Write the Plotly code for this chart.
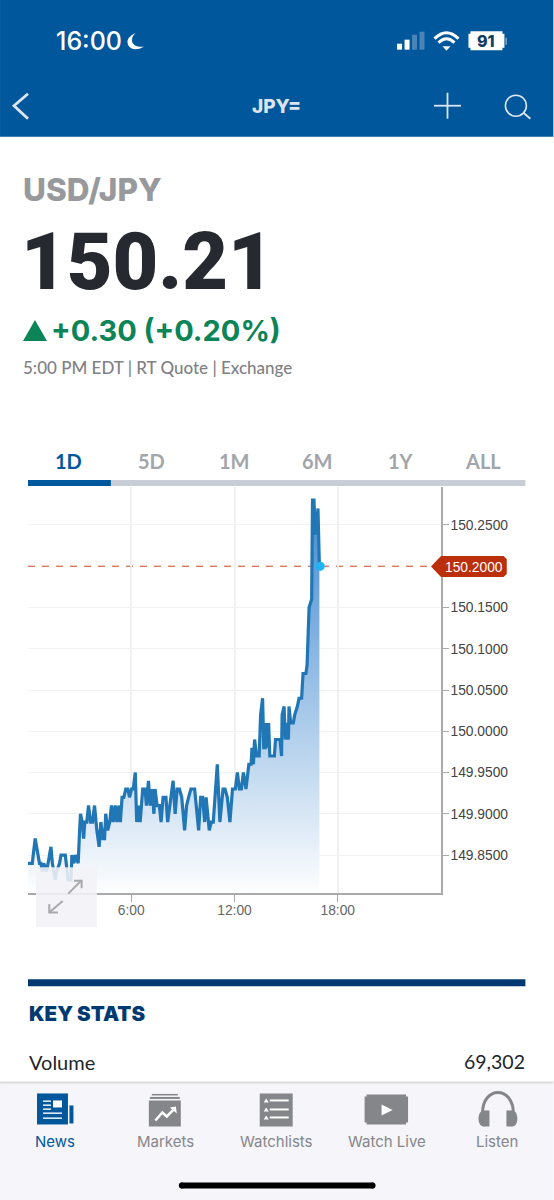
#!/usr/bin/env python3
# -*- coding: utf-8 -*-
import plotly.graph_objects as go

# quote data
session_date = "2023-10-20"
times = [
    "00:00", "00:15", "00:25", "00:40", "00:45", "00:50", "00:55", "01:05", "01:10", "01:20",
    "01:25", "01:35", "01:40", "01:50", "01:55", "02:10", "02:20", "02:30", "02:33", "02:40",
    "02:45", "02:53", "02:55", "03:00", "03:03", "03:09", "03:14", "03:18", "03:25", "03:31",
    "03:38", "03:45", "03:52", "04:00", "04:08", "04:14", "04:21", "04:27", "04:31", "04:38",
    "04:45", "04:51", "04:57", "05:04", "05:10", "05:17", "05:22", "05:28", "05:34", "05:41",
    "05:48", "05:54", "06:01", "06:07", "06:14", "06:19", "06:26", "06:31", "06:40", "06:48",
    "06:53", "07:00", "07:06", "07:13", "07:19", "07:23", "07:30", "07:38", "07:44", "07:51",
    "08:01", "08:07", "08:14", "08:26", "08:33", "08:40", "08:48", "08:56", "09:06", "09:13",
    "09:20", "09:28", "09:41", "09:55", "10:02", "10:09", "10:16", "10:21", "10:32", "10:39",
    "10:46", "10:53", "11:00", "11:09", "11:20", "11:27", "11:35", "11:44", "11:53", "12:03",
    "12:10", "12:17", "12:24", "12:31", "12:40", "12:50", "12:58", "13:01", "13:06", "13:10",
    "13:17", "13:26", "13:31", "13:38", "13:42", "13:47", "13:49", "13:53", "13:59", "14:03",
    "14:19", "14:23", "14:39", "14:44", "14:46", "14:53", "14:57", "15:02", "15:08", "15:10",
    "15:16", "15:25", "15:30", "15:39", "15:45", "15:54", "15:59", "16:09", "16:13", "16:20",
    "16:29", "16:32", "16:37", "16:42", "16:46", "16:51", "16:56",
]
rates = [
    149.84, 149.84, 149.87, 149.84, 149.84, 149.83, 149.84, 149.83, 149.84, 149.86,
    149.84, 149.82, 149.83, 149.84, 149.85, 149.85, 149.82, 149.82, 149.85, 149.84,
    149.85, 149.84, 149.84, 149.88, 149.90, 149.89, 149.87, 149.89, 149.89, 149.91,
    149.89, 149.89, 149.91, 149.88, 149.86, 149.89, 149.87, 149.87, 149.90, 149.88,
    149.89, 149.91, 149.89, 149.91, 149.89, 149.91, 149.89, 149.92, 149.92, 149.93,
    149.93, 149.92, 149.93, 149.93, 149.95, 149.89, 149.91, 149.89, 149.93, 149.93,
    149.91, 149.94, 149.91, 149.93, 149.90, 149.93, 149.91, 149.91, 149.89, 149.92,
    149.92, 149.89, 149.91, 149.94, 149.90, 149.93, 149.93, 149.92, 149.88, 149.91,
    149.92, 149.93, 149.93, 149.88, 149.92, 149.92, 149.89, 149.92, 149.88, 149.89,
    149.89, 149.92, 149.96, 149.89, 149.93, 149.93, 149.92, 149.89, 149.93, 149.93,
    149.95, 149.93, 149.93, 149.95, 149.93, 149.96, 149.96, 149.98, 149.96, 149.99,
    149.97, 149.97, 150.02, 150.04, 149.98, 149.98, 150.01, 149.98, 150.01, 149.97,
    149.97, 149.99, 149.99, 149.97, 150.02, 150.03, 149.99, 150.01, 149.99, 150.03,
    150.01, 150.01, 150.02, 150.03, 150.04, 150.04, 150.07, 150.07, 150.08, 150.15,
    150.16, 150.28, 150.28, 150.24, 150.24, 150.27, 150.20,
]
last_time = "16:59"
last_rate = 150.20
y_ticks = [149.85, 149.90, 149.95, 150.00, 150.05, 150.10, 150.15, 150.25]
x_ticks = ["06:00", "12:00", "18:00"]
x_tick_labels = ["6:00", "12:00", "18:00"]
tab_names = ["1D", "5D", "1M", "6M", "1Y", "ALL"]
nav_names = ["News", "Markets", "Watchlists", "Watch Live", "Listen"]

WIDTH, HEIGHT = 554, 1200
LEFT, RIGHT, TOP, BOTTOM = 28, 441.5, 487, 892.7
BLUE = "#00579b"
GREY = "#85868a"
UI_FONT = "Lato"
shapes = []
annotations = []


def px(x):
    return (x - LEFT) / (RIGHT - LEFT)


def py(y):
    return (BOTTOM - y) / (BOTTOM - TOP)


def rect(x0, y0, x1, y1, color, layer="below", opacity=1):
    shapes.append(dict(type="rect", xref="paper", yref="paper", x0=px(x0), x1=px(x1),
                       y0=py(y0), y1=py(y1), fillcolor=color, line_width=0,
                       layer=layer, opacity=opacity))


def oval(x0, y0, x1, y1, fill=None, line=None, width=0):
    shapes.append(dict(type="circle", xref="paper", yref="paper", x0=px(x0), x1=px(x1),
                       y0=py(y0), y1=py(y1), fillcolor=fill or "rgba(0,0,0,0)",
                       line=dict(color=line or "rgba(0,0,0,0)", width=width)))


def poly(points, fill=None, line=None, width=0, layer="above"):
    # straight segments, given in screen pixels
    path = "M " + " L ".join(f"{px(x):.5f} {py(y):.5f}" for x, y in points)
    if fill:
        path += " Z"
    shapes.append(dict(type="path", xref="paper", yref="paper", path=path, layer=layer,
                       fillcolor=fill or "rgba(0,0,0,0)",
                       line=dict(color=line or "rgba(0,0,0,0)", width=width)))


def curve(d, fill=None, line=None, width=0):
    # d is a list of (command, x, y, ...) in screen pixels
    parts = []
    for seg in d:
        nums = seg[1:]
        coords = [f"{px(nums[i]):.5f} {py(nums[i + 1]):.5f}" for i in range(0, len(nums), 2)]
        parts.append(seg[0] + " " + " ".join(coords))
    shapes.append(dict(type="path", xref="paper", yref="paper", path=" ".join(parts),
                       fillcolor=fill or "rgba(0,0,0,0)",
                       line=dict(color=line or "rgba(0,0,0,0)", width=width)))


def label(text, x, y, size, color, weight=400, anchor="left", family=UI_FONT):
    annotations.append(dict(text=text, xref="paper", yref="paper", x=px(x), y=py(y),
                            xanchor=anchor, yanchor="middle", showarrow=False,
                            borderpad=0, align=anchor,
                            font=dict(family=family, size=size, color=color, weight=weight)))


# Page chrome
rect(0, 0, WIDTH, 137, BLUE)
rect(0, 1082, WIDTH, 1200, "#f5f5fa")
rect(0, 1081, WIDTH, 1083, "#dcdcdf")

# status bar
label("16:00", 55.5, 41, 25, "white", 500, family="Inter")
curve([("M", 136, 33), ("Q", 125, 38, 128, 45), ("Q", 133, 53, 144, 47),
       ("Q", 133, 48, 132, 41), ("Q", 132, 36, 136, 33)], fill="white")
for x0, top, col in [(397.5, 44, "white"), (405, 40, "white"), (412.5, 35, "#4a84b8"), (420, 32, "#4a84b8")]:
    rect(x0, top, x0 + 5, 50, col)
curve([("M", 435, 39), ("Q", 447, 27, 459, 39)], line="white", width=3)
curve([("M", 439, 43), ("Q", 447, 35, 455, 43)], line="white", width=3)
poly([(447, 51), (443, 46.5), (451, 46.5)], fill="white")
rect(471, 31.5, 503, 50.5, "white")
rect(469, 34, 505, 48, "white")
rect(506, 38, 507.5, 45, "#7fa6c9")
label("91", 487, 41.5, 16, "#0f3d66", 800, "center", "Inter")

# nav bar
poly([(28, 94), (14, 106), (28, 119)], line="#dfe5ee", width=2.8)
label("JPY=", 277, 107, 19, "#dde3ec", 800, "center", "Inter")
poly([(434.5, 106), (461.5, 106)], line="#dfe5ee", width=1.8)
poly([(448, 93), (448, 119)], line="#dfe5ee", width=1.8)
oval(506, 95.5, 527, 116.5, line="#dfe5ee", width=1.6)
poly([(524, 113), (531, 119)], line="#dfe5ee", width=1.8)

# quote header
label("USD/JPY", 22, 189.5, 31.5, "#98999d", 800, family="Inter")
label("150.21", 20, 262, 79, "#262a30", 900, family="Roboto")
poly([(23, 341), (35, 320), (47, 341)], fill="#0b8457")
label("+0.30 (+0.20%)", 50, 331, 29, "#0b8457", 700, family="Inter")
label("5:00 PM EDT | RT Quote | Exchange", 22, 368, 17, "#808185", 500)

# range tabs
for i, name in enumerate(tab_names):
    label(name, 69 + i * 83, 461, 20, BLUE if i == 0 else "#a2a5aa", 700, "center")
rect(28, 480, 526, 486, "#c9ced6")
rect(28, 480, 111, 486, BLUE)

# key stats
rect(28, 979, 526, 986, "#003a70")
label("KEY STATS", 27.5, 1013, 20.5, "#003a70", 900, family="Inter")
label("Volume", 27.5, 1061.5, 20, "#22252a", 400)
label("69,302", 527, 1061.5, 19.5, "#22252a", 400, "right")

# bottom navigation
for name, cx in zip(nav_names, [55, 166, 277, 387, 498]):
    label(name, cx, 1141.5, 15, BLUE if name == "News" else GREY, 400, "center", "Inter")
rect(37, 1093, 68, 1124, BLUE)
rect(69.5, 1105, 73.5, 1123, BLUE)
rect(53, 1100, 62, 1107, "white")
for y in [1100, 1104, 1108]:
    rect(43, y, 51, y + 1.4, "white")
for y in [1112, 1117]:
    rect(43, y, 62, y + 1.4, "white")
rect(152, 1093.5, 178, 1095, GREY)
rect(150, 1096.5, 180, 1098.5, GREY)
rect(149, 1100, 181, 1126, GREY)
poly([(155.5, 1120), (162.5, 1112), (167, 1116), (175, 1108)], line="white", width=2.5)
poly([(176, 1106), (177, 1113), (170, 1107)], fill="white")
rect(260, 1093, 293, 1126, GREY)
for y in [1100, 1109, 1117]:
    rect(270, y - 1, 289, y + 1, "white")
    poly([(264, y + 2), (266.5, y - 2), (269, y + 2)], fill="white")
rect(367, 1094, 406.5, 1124, GREY)
rect(365, 1096, 408.5, 1122, GREY)
poly([(382, 1104), (393, 1109.5), (382, 1115)], fill="white")
curve([("M", 483, 1113), ("C", 483, 1085, 514, 1085, 514, 1113)], line=GREY, width=3)
rect(484, 1110, 490, 1126, GREY)
rect(507, 1110, 513, 1126, GREY)
oval(479, 1110, 489, 1126, fill=GREY)
oval(508, 1110, 518, 1126, fill=GREY)
rect(181, 1182, 374, 1188, "black")
oval(179, 1182, 185, 1188, fill="black")
oval(370, 1182, 376, 1188, fill="black")

# Chart furniture
stamps = [f"{session_date} {t}" for t in times]
shapes.append(dict(type="line", xref="paper", yref="y", x0=0, x1=px(431), y0=last_rate, y1=last_rate,
                   layer="below", line=dict(color="#c9452a", width=1, dash="7px,7px")))
poly([(431.5, 566.5), (441.5, 556), (504, 556), (507.3, 559), (507.3, 574), (504, 577), (441.5, 577)],
     fill="#bb2f0a")
label(f"{last_rate:.4f}", 474.5, 567, 13.8, "white", 400, "center", "Liberation Sans")

fig = go.Figure()
fig.add_trace(go.Scatter(
    x=stamps,
    y=rates,
    mode="lines",
    line={"color": "#2176b5", "width": 3.2},
    fill="tozeroy",
    fillgradient=dict(type="vertical", start=150.28, stop=149.80,
                      colorscale=[[0, "#4189d0"], [1, "#ffffff"]]),
    hoverinfo="skip",
))
fig.add_trace(go.Scatter(
    x=[f"{session_date} {last_time}"],
    y=[last_rate],
    mode="markers",
    marker={"color": "#1eb4f5", "size": 9},
    hoverinfo="skip",
))

# expand button sits over the plot
rect(36, 867, 97, 927, "#f2f2f7", "above", 0.88)
for pts in [[(68.3, 893.3), (81.7, 880)], [(74, 880.5), (81.7, 880.5), (81.7, 888)],
            [(62.7, 900.7), (49.3, 912.3)], [(49.3, 904), (49.3, 912.3), (58, 912.3)]]:
    poly(pts, line="#a9a9ad", width=2)

fig.update_layout(
    width=WIDTH,
    height=HEIGHT,
    margin=dict(l=LEFT, r=WIDTH - RIGHT, t=TOP, b=HEIGHT - BOTTOM, autoexpand=False),
    paper_bgcolor="white",
    plot_bgcolor="white",
    showlegend=False,
    shapes=shapes,
    annotations=annotations,
)
fig.update_xaxes(
    type="date",
    range=[f"{session_date} 00:00", "2023-10-21 00:00"],
    tickvals=[f"{session_date} {t}" for t in x_ticks],
    ticktext=x_tick_labels,
    ticks="outside",
    ticklen=7,
    tickcolor="#aaaaaa",
    tickfont=dict(family="Liberation Sans", size=13.8, color="#666666"),
    ticklabelstandoff=-3,
    showline=True,
    linecolor="#aaaaaa",
    linewidth=1.5,
    gridcolor="#f1f1f1",
    gridwidth=1.5,
    zeroline=False,
)
fig.update_yaxes(
    side="right",
    range=[149.804, 150.296],
    tickvals=y_ticks,
    tickformat=".4f",
    ticks="outside",
    ticklen=6,
    tickcolor="#aaaaaa",
    tickfont=dict(family="Liberation Sans", size=13.8, color="#444444"),
    ticklabelstandoff=-1,
    showline=True,
    linecolor="#aaaaaa",
    linewidth=1.5,
    gridcolor="#f1f1f1",
    gridwidth=1,
    zeroline=False,
)
fig.write_html("out.html", config={"displayModeBar": False},
               post_script="document.body.style.margin='0';")
